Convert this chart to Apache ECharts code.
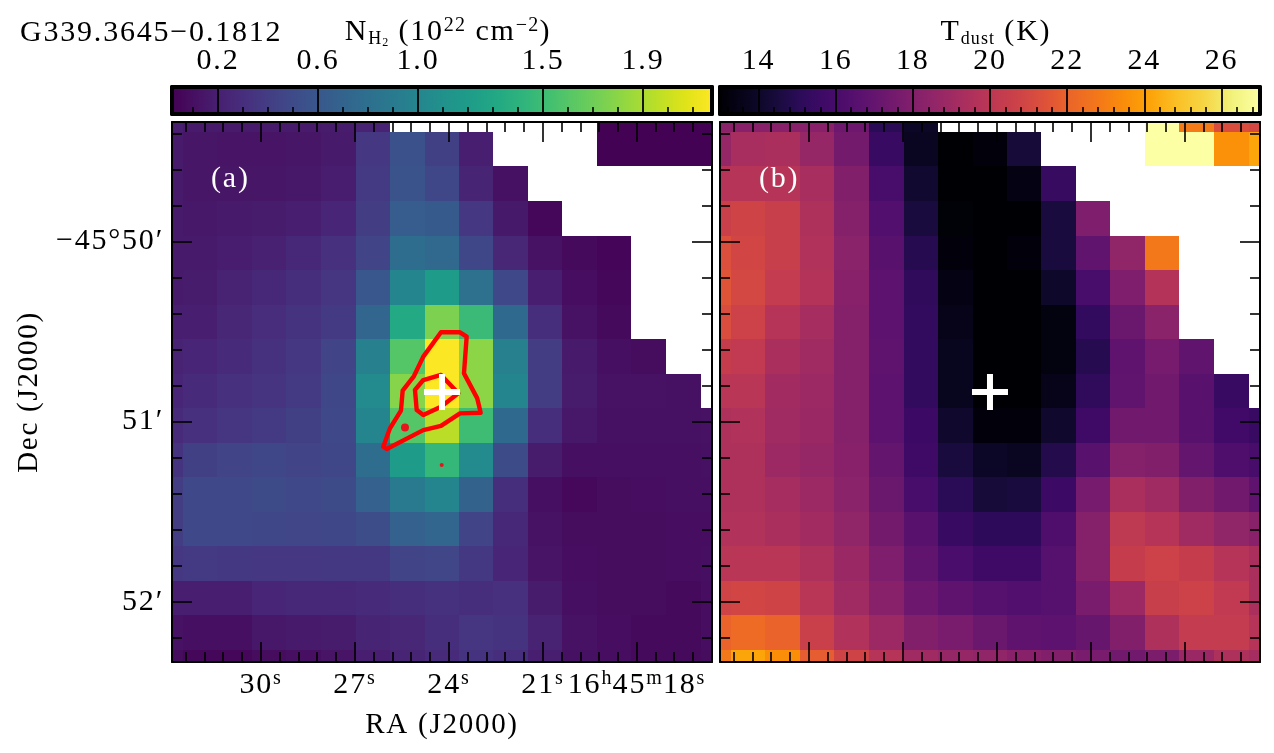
<!DOCTYPE html>
<html><head><meta charset="utf-8">
<style>html,body{margin:0;padding:0;background:#fff}#c{width:1274px;height:753px}</style>
<script src="https://cdn.jsdelivr.net/npm/echarts@6/dist/echarts.min.js"></script>
</head><body><div id="c"></div>
<script>
const _ = null;
const raEdges = [32.83,32.48,31.38,30.28,29.18,28.08,26.97,25.87,24.77,23.67,22.57,21.47,20.37,19.27,18.17,17.06,15.96,15.595];
const decEdges = [49.336,49.391,49.583,49.775,49.967,50.158,50.350,50.542,50.733,50.925,51.117,51.308,51.500,51.692,51.883,52.075,52.267,52.335];
const nH2 = [
[.20,.17,.17,.17,.17,.18,.22,_,_,_,_,_,_,.02,.02,.02,.02],
[.17,.14,.13,.13,.14,.17,.36,.55,.42,.20,_,_,_,.02,.02,.02,.02],
[.17,.14,.14,.14,.15,.19,.38,.57,.47,.23,.11,_,_,_,_,_,_],
[.17,.15,.17,.18,.20,.24,.40,.65,.62,.36,.16,.05,_,_,_,_,_],
[.17,.17,.19,.21,.26,.31,.45,.78,.74,.47,.25,.12,.07,.04,_,_,_],
[.17,.18,.22,.26,.30,.35,.60,1.0,1.2,.82,.48,.20,.09,.05,_,_,_],
[.20,.20,.25,.29,.33,.38,.72,1.32,1.75,1.48,.75,.30,.12,.07,_,_,_],
[.22,.24,.28,.32,.36,.45,.95,1.60,2.17,1.80,.95,.40,.17,.10,.08,_,_],
[.24,.27,.31,.34,.38,.47,1.05,1.78,2.17,1.80,1.0,.40,.18,.12,.12,.11,_],
[.28,.31,.35,.38,.42,.48,1.0,1.60,1.95,1.50,.75,.30,.15,.11,.11,.11,.12],
[.33,.42,.45,.47,.45,.47,.78,1.20,1.45,1.05,.50,.18,.10,.10,.10,.10,.11],
[.40,.49,.49,.50,.49,.50,.68,.90,1.0,.70,.30,.10,.06,.08,.09,.10,.10],
[.40,.48,.48,.47,.46,.47,.52,.68,.72,.45,.26,.12,.08,.08,.08,.09,.09],
[.36,.38,.37,.36,.36,.37,.37,.45,.46,.37,.24,.13,.09,.08,.08,.09,.10],
[.20,.20,.20,.24,.26,.26,.28,.30,.32,.30,.31,.18,.10,.08,.08,.07,.09],
[.12,.10,.10,.15,.17,.18,.23,.25,.30,.35,.33,.22,.12,.09,.07,.07,.09],
[.08,.05,.05,.08,.10,.13,.20,.23,.28,.33,.30,.20,.11,.09,.07,.07,.08]];
const tDust = [
[18.3,18.2,18.2,18.2,17.3,15.0,13.9,_,_,_,_,_,_,27,22.9,21.2,21.0],
[18.7,19.3,19.4,18.7,17.5,15.5,13.8,13.0,13.2,14.4,_,_,_,27,27,23.6,24.2],
[19.8,19.8,19.8,19.3,18.0,16.0,14.2,13.0,13.0,13.4,15.4,_,_,_,_,_,_],
[20.6,20.8,20.5,19.5,18.1,16.4,14.5,13.1,13.0,13.0,14.5,17.9,_,_,_,_,_],
[21.3,20.9,20.5,19.6,18.3,16.6,14.9,13.2,13.0,13.2,14.5,16.9,18.5,22.8,_,_,_],
[21.5,21.0,20.3,19.7,18.2,16.7,15.2,13.4,13.0,13.0,14.0,16.0,17.9,19.7,_,_,_],
[21.2,20.7,19.8,19.2,18.1,16.7,15.3,13.6,13.0,13.0,13.3,15.3,17.2,18.3,_,_,_],
[20.4,20.2,19.4,19.0,18.1,16.8,15.3,13.7,13.0,13.0,13.3,14.9,16.8,17.6,16.9,_,_],
[19.9,19.9,19.1,18.9,18.1,16.7,15.3,13.7,13.0,13.0,13.6,15.2,16.9,17.4,16.6,15.5,_],
[19.5,19.6,19.0,18.8,18.1,16.7,15.6,14.1,13.2,13.2,14.1,15.7,17.4,17.4,16.6,15.8,15.5],
[19.5,19.5,18.9,18.7,18.2,17.0,15.7,14.5,13.9,13.8,14.8,16.6,18.1,18.0,17.0,16.3,16.0],
[19.5,19.5,19.2,18.9,18.3,17.2,16.0,15.0,14.4,14.5,15.6,17.6,19.4,19.0,18.0,17.4,16.8],
[19.6,19.6,19.4,19.1,18.5,17.5,16.6,15.5,15.1,15.1,16.3,18.1,20.1,19.8,19.0,18.5,18.2],
[19.9,19.9,19.9,19.5,18.8,17.9,16.9,16.1,15.7,15.7,16.5,18.1,20.4,20.7,20.4,19.8,19.4],
[20.8,20.9,20.8,19.9,19.0,18.2,17.3,16.8,16.5,16.4,16.5,17.7,18.9,20.5,20.7,20.2,19.4],
[22.0,22.3,22.0,20.6,19.6,18.9,18.0,17.7,17.2,16.8,16.7,17.1,18.0,19.5,20.3,20.3,19.8],
[22.8,24.2,23.5,21.8,20.8,19.8,19.0,18.7,18.5,18.2,18.0,17.7,17.4,17.8,18.8,19.5,19.2]];
const contourOuter = [[26.087,51.139],[25.873,51.037],[25.522,50.939],[25.468,50.828],[25.107,50.747],[24.810,50.639],[24.245,50.504],[23.639,50.504],[23.425,50.528],[23.511,50.732],[23.087,50.871],[22.978,50.951],[23.639,50.954],[24.245,51.024],[24.810,51.047],[25.978,51.152],[26.087,51.139]];
const contourInner = [[24.245,50.741],[24.81,50.769],[25.075,50.824],[25.02,50.936],[24.81,50.963],[24.245,50.917],[23.692,50.843],[24.245,50.741]];
const contourBlobs = [[25.394,51.032,8],[24.222,51.241,4]];
const sourcePos = [24.213,50.836];
const raMajor = [30,27,24,21,18];
const raMinor = [32.4,31.8,31.2,30.6,29.4,28.8,28.2,27.6,26.4,25.8,25.2,24.6,23.4,22.8,22.2,21.6,20.4,19.8,19.2,18.6,17.4,16.8,16.2];
const decMajor = [50,51,52];
const decMinor = [49.4,49.6,49.8,50.2,50.4,50.6,50.8,51.2,51.4,51.6,51.8,52.2];
const nTicks = [0.2,0.6,1.0,1.5,1.9];
const nMinor = [.1,.3,.4,.5,.7,.8,.9,1.1,1.2,1.3,1.4,1.6,1.7,1.8,2.0,2.1];
const tTicks = [14,16,18,20,22,24,26];
const tMinor = [13.2,13.6,14.4,14.8,15.2,15.6,16.4,16.8,17.2,17.6,18.4,18.8,19.2,19.6,20.4,20.8,21.2,21.6,22.4,22.8,23.2,23.6,24.4,24.8,25.2,25.6,26.4,26.8];
const nRange = [0.016,2.176], tRange = [13,27];
const viridis = ['#440154','#471365','#482475','#463480','#414487','#3b528b','#355f8d','#2f6c8e','#2a788e','#25848e','#21918c','#1e9c89','#22a884','#2fb47c','#43bf71','#5ec962','#7ad151','#9bd93c','#bddf26','#dfe318','#fde725'];
const inferno = ['#000004','#08051e','#160b39','#2d0b5a','#420a68','#56106e','#6a176e','#7f1e6c','#932667','#a82e5f','#bc3754','#cc4248','#dd513a','#eb6628','#f37819','#fa8e09','#fca50a','#fac228','#f6d746','#f2f27d','#fcffa4'];

// The reference font is wider than any installed serif: track the letters out a little.
(function(){
  const P=CanvasRenderingContext2D.prototype, track=0.06;
  const setLS=c=>{const m=/([\d.]+)px/.exec(c.font);if(m)c.letterSpacing=(parseFloat(m[1])*track).toFixed(2)+'px';};
  for(const k of ['fillText','measureText']){const o=P[k];P[k]=function(){setLS(this);return o.apply(this,arguments);};}
})();

const FONT = '"Liberation Serif", serif';
const rich = {
  d:{fontFamily:FONT,fontSize:30,lineHeight:34,color:'#000'},
  u:{fontFamily:FONT,fontSize:20,lineHeight:22,verticalAlign:'top',color:'#000'},
  b:{fontFamily:FONT,fontSize:18,lineHeight:16,verticalAlign:'bottom',color:'#000'},
  bb:{fontFamily:FONT,fontSize:12,lineHeight:12,verticalAlign:'bottom',color:'#000'}
};
const ax = {grid:[],x:[],y:[],series:[]};
function addGrid(r){ax.grid.push({left:r[0],top:r[1],width:r[2]-r[0],height:r[3]-r[1],containLabel:false,show:false});return ax.grid.length-1;}
function base(g,min,max,inv,pos,lw){
  return {type:'value',gridIndex:g,min,max,inverse:inv,position:pos,z:10,splitLine:{show:false},
    axisLine:{show:lw>0,onZero:false,lineStyle:{color:'#000',width:lw}},
    axisTick:{show:false},minorTick:{show:false},axisLabel:{show:false}};
}
function ticks(a,vals,len,w){a.axisTick={show:true,inside:true,length:len,customValues:vals,lineStyle:{color:'#000',width:w}};return a;}
function labels(a,vals,fmt,margin){a.axisLabel={show:true,customValues:vals,formatter:fmt,margin,rich,hideOverlap:false,showMinLabel:true,showMaxLabel:true,fontFamily:FONT,fontSize:30,color:'#000'};return a;}
function raFmt(v){return v===18?'{d|16}{u|h}{d|45}{u|m}{d|18}{u|s}':'{d|'+v+'}{u|s}';}
function decFmt(v){return v===50?'−45°50′':v+'′';}

function panel(r,withLabels,values,overlays){
  const g=addGrid(r), m=addGrid(r);
  const xMin=raEdges[raEdges.length-1],xMax=raEdges[0],yMin=decEdges[0],yMax=decEdges[decEdges.length-1];
  const xb=ticks(base(g,xMin,xMax,true,'bottom',2),raMajor,20,1.6);
  if(withLabels){labels(xb,raMajor,raFmt,6);xb.name='RA (J2000)';xb.nameLocation='middle';xb.nameGap=48;xb.nameTextStyle={fontFamily:FONT,fontSize:29,color:'#000'};}
  const xi=ax.x.length; ax.x.push(xb);
  ax.x.push(ticks(base(g,xMin,xMax,true,'top',2),raMajor,20,1.6));
  const yl=ticks(base(g,yMin,yMax,true,'left',2),decMajor,20,1.6);
  if(withLabels){labels(yl,decMajor,decFmt,8);yl.name='Dec (J2000)';yl.nameLocation='middle';yl.nameGap=127;yl.nameRotate=90;yl.nameTextStyle={fontFamily:FONT,fontSize:29,color:'#000'};}
  const yi=ax.y.length; ax.y.push(yl);
  ax.y.push(ticks(base(g,yMin,yMax,true,'right',2),decMajor,20,1.6));
  ax.x.push(ticks(base(m,xMin,xMax,true,'bottom',0),raMinor,10,1.6));
  ax.x.push(ticks(base(m,xMin,xMax,true,'top',0),raMinor,10,1.6));
  ax.y.push(ticks(base(m,yMin,yMax,true,'left',0),decMinor,10,1.6));
  ax.y.push(ticks(base(m,yMin,yMax,true,'right',0),decMinor,10,1.6));
  const data=[];
  values.forEach((row,i)=>row.forEach((v,j)=>{if(v!==null)data.push([raEdges[j],raEdges[j+1],decEdges[i],decEdges[i+1],v]);}));
  ax.series.push({type:'custom',xAxisIndex:xi,yAxisIndex:yi,data,z:2,silent:true,clip:true,
    encode:{x:[0,1],y:[2,3]},
    renderItem:(p,api)=>{
      const a=api.coord([api.value(0),api.value(2)]),b=api.coord([api.value(1),api.value(3)]);
      const x0=Math.round(Math.min(a[0],b[0])),x1=Math.round(Math.max(a[0],b[0])),y0=Math.round(Math.min(a[1],b[1])),y1=Math.round(Math.max(a[1],b[1]));
      return {type:'rect',shape:{x:x0,y:y0,width:x1-x0,height:y1-y0},style:{fill:api.visual('color')}};
    }});
  overlays(xi,yi);
}
function colorbar(r,range,major,minor,stops,fmt){
  const g=addGrid(r),m=addGrid(r);
  const xi=ax.x.length;
  ax.x.push(ticks(base(g,range[0],range[1],false,'bottom',4),major,27,1.8));
  const top=base(g,range[0],range[1],false,'top',4);
  labels(top,major,fmt,10); ax.x.push(top);
  const yi=ax.y.length;
  ax.y.push(base(g,0,1,false,'left',4));
  ax.y.push(base(g,0,1,false,'right',4));
  ax.x.push(ticks(base(m,range[0],range[1],false,'bottom',0),minor,7,1.6));
  ax.y.push(base(m,0,1,false,'left',0));
  ax.series.push({type:'custom',xAxisIndex:xi,yAxisIndex:yi,data:[[range[0],range[1]]],z:2,silent:true,encode:{x:[0,1]},
    renderItem:(p,api)=>{
      const a=api.coord([api.value(0),0]),b=api.coord([api.value(1),1]);
      return {type:'rect',shape:{x:a[0],y:b[1],width:b[0]-a[0],height:a[1]-b[1]},
        style:{fill:{type:'linear',x:0,y:0,x2:1,y2:0,colorStops:stops.map((c,i)=>({offset:i/(stops.length-1),color:c}))}}};
    }});
}
const CROSS='path://M15,0H21V15H36V21H21V36H15V21H0V15H15Z';
function crossSeries(x,y){return {type:'scatter',xAxisIndex:x,yAxisIndex:y,data:[sourcePos],symbol:CROSS,symbolSize:36,z:7,silent:true,itemStyle:{color:'#fff',opacity:1}};}

panel([172,122,712,662],true,nH2,()=>{});
const aXi=0,aYi=0;
panel([720,122,1260,662],false,tDust,(x,y)=>{ax.bx=x;ax.by=y;});
colorbar([172,87,712,114],nRange,nTicks,nMinor,viridis,v=>v.toFixed(1));
colorbar([720,87,1260,114],tRange,tTicks,tMinor,inferno,v=>String(v));
const lineS=(d,w)=>({type:'line',xAxisIndex:aXi,yAxisIndex:aYi,data:d,symbol:'none',z:5,silent:true,clip:true,lineStyle:{color:'#ff0000',width:w,join:'round',cap:'round'}});
ax.series.push(lineS(contourOuter,4.4),lineS(contourInner,4.4));
ax.series.push({type:'scatter',xAxisIndex:aXi,yAxisIndex:aYi,data:contourBlobs,z:5,silent:true,symbol:'circle',symbolSize:d=>d[2],itemStyle:{color:'#e8141c',opacity:1}});
ax.series.push(crossSeries(aXi,aYi),crossSeries(ax.bx,ax.by));

const titles=[
 {text:'G339.3645−0.1812',left:15,top:12,textStyle:{fontFamily:FONT,fontSize:30,fontWeight:'normal',color:'#000'}},
 {text:'{d|N}{b|H}{bb|2}{d| (10}{u|22}{d| cm}{u|−2}{d|)}',left:443,top:10,textAlign:'center',textStyle:{rich,fontFamily:FONT,fontSize:30,fontWeight:'normal',color:'#000'}},
 {text:'{d|T}{b|dust}{d| (K)}',left:991,top:10,textAlign:'center',textStyle:{rich,fontFamily:FONT,fontSize:30,fontWeight:'normal',color:'#000'}},
 {text:'(a)',left:206,top:158,textStyle:{fontFamily:FONT,fontSize:30,fontWeight:'normal',color:'#fff'}},
 {text:'(b)',left:754,top:158,textStyle:{fontFamily:FONT,fontSize:30,fontWeight:'normal',color:'#fff'}}
];
const chart=echarts.init(document.getElementById('c'),null,{renderer:'canvas'});
chart.setOption({animation:false,backgroundColor:'#fff',title:titles,grid:ax.grid,xAxis:ax.x,yAxis:ax.y,
  visualMap:[
   {type:'continuous',show:false,seriesIndex:0,dimension:4,min:nRange[0],max:nRange[1],inRange:{color:viridis}},
   {type:'continuous',show:false,seriesIndex:1,dimension:4,min:tRange[0],max:tRange[1],inRange:{color:inferno}}],
  series:ax.series});
</script></body></html>
